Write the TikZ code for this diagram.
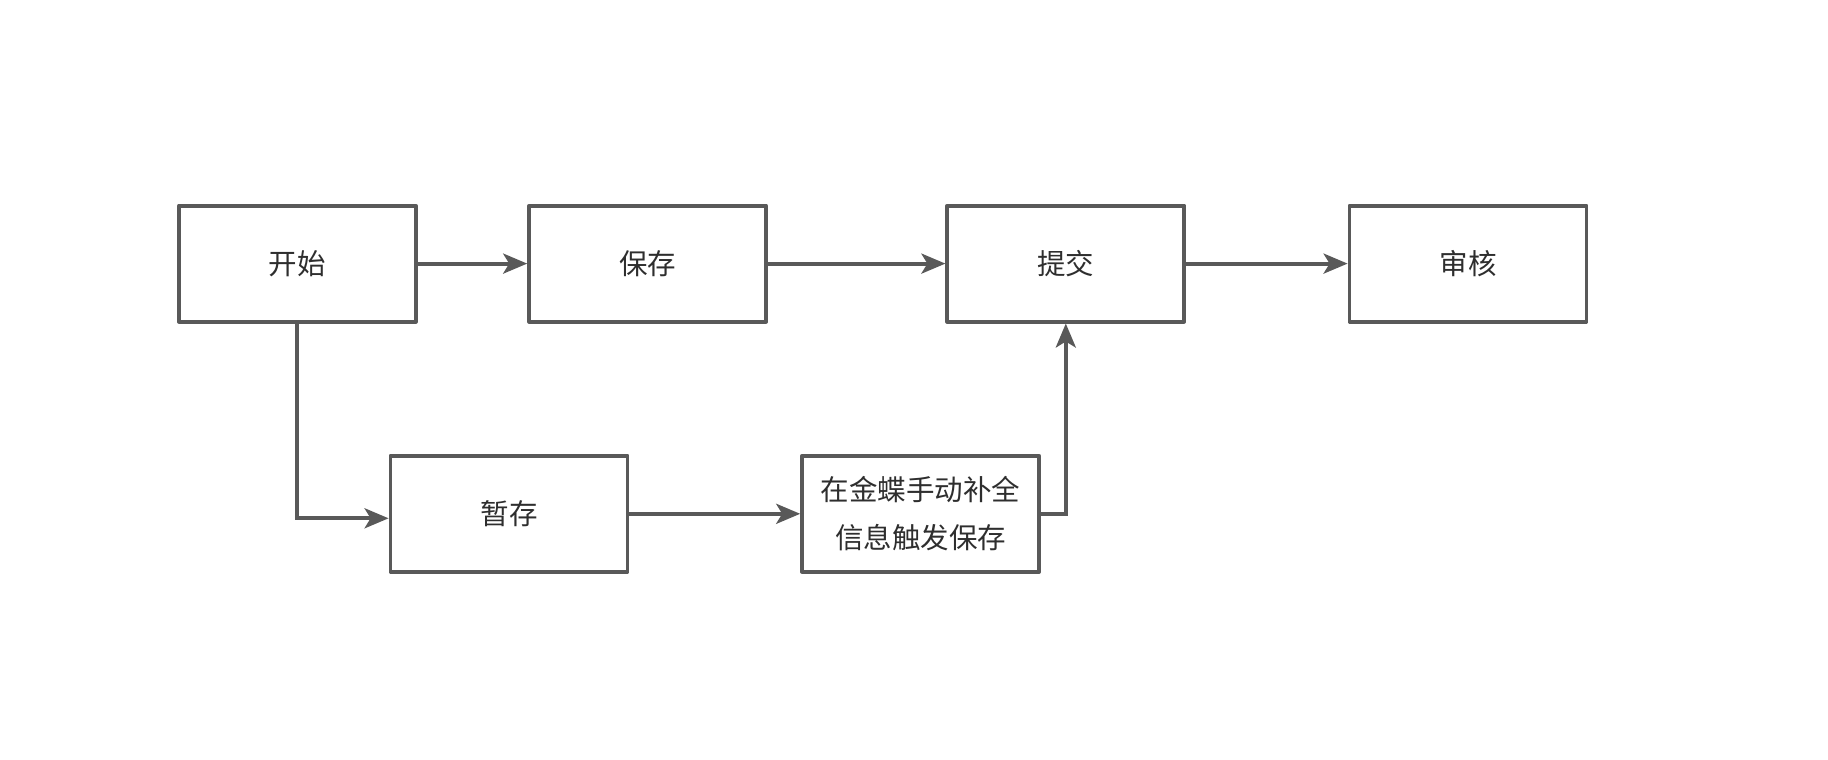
\documentclass[tikz,border=0pt]{standalone}
\usepackage{fontspec}
\setmainfont{Noto Sans CJK SC}
\usetikzlibrary{arrows.meta,calc}
\definecolor{linegray}{HTML}{595959}
\definecolor{textgray}{HTML}{2E2E2E}
\tikzset{
  boxnode/.style={draw=linegray, line width=3.8pt, rectangle, line join=round,
    minimum width=237pt, minimum height=116pt, inner sep=0pt,
    text=textgray, font=\fontsize{28.5pt}{48pt}\selectfont, align=center},
  conn/.style={draw=linegray, line width=3.8pt,
    -{Stealth[length=24pt,width=20pt,inset=6pt]}}
}
\begin{document}
\begin{tikzpicture}[x=1pt,y=-1pt]
\useasboundingbox (0,0) rectangle (1828,760);
\node[boxnode] (start) at (297.3,263.6) {开始};
\node[boxnode] (save) at (647.6,263.6) {保存};
\node[boxnode] (submit) at (1065.8,263.6) {提交};
\node[boxnode] (audit) at (1468,263.6) {审核};
\node[boxnode] (temp) at (509,513.8) {暂存};
\node[boxnode] (kd) at (920.6,513.8) {在金蝶手动补全\\信息触发保存};
\coordinate (tempin) at ($(temp.west)+(0,4.5)$);
\draw[conn] (start) -- (save);
\draw[conn] (save) -- (submit);
\draw[conn] (submit) -- (audit);
\draw[conn] (start.south) |- (tempin);
\draw[conn] (temp) -- (kd);
\draw[conn] (kd.east) -| (submit.south);
\end{tikzpicture}
\end{document}
